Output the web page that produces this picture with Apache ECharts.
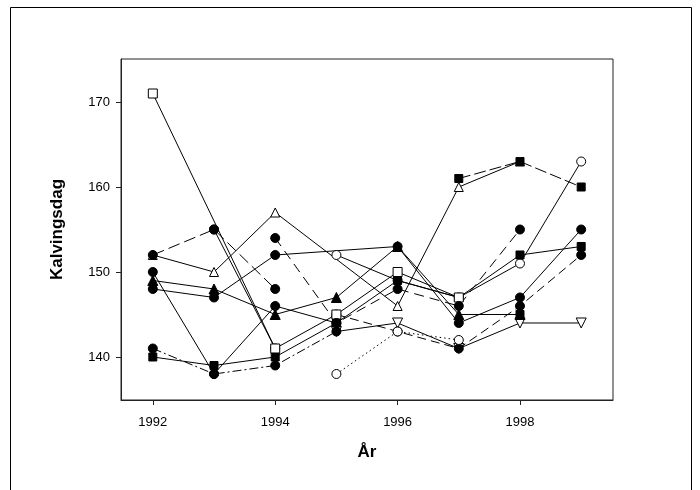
<!DOCTYPE html>
<html>
<head>
<meta charset="utf-8">
<script src="https://cdn.jsdelivr.net/npm/echarts@6/dist/echarts.min.js"></script>
<style>
  html, body { margin: 0; padding: 0; background: #fff; }
  #chart { width: 700px; height: 490px; }
</style>
</head>
<body>
<div id="chart"></div>
<script>
// Years on the x axis and the tick labels shown on each axis
const years = [1992, 1993, 1994, 1995, 1996, 1997, 1998, 1999];
const xTickValues = [1992, 1994, 1996, 1998];
const yTickValues = [140, 150, 160, 170];

// Mean calving day per herd and year (null = no observation that year)
const herdOpenCircleSolid = [null, null, null, 152, 149, 147, 151, 163];
const herdCircleLate93    = [null, 155, 141, null, null, null, null, null];
const herdOpenTriDown     = [null, null, null, 143, 144, 141, 144, 144];
const herdCircleDashedB   = [null, null, null, 145, 143, 141, 146, 152];
const herdFilledSquare    = [140, 139, 140, 144, 149, 147, 152, 153];
const herdCircleSteep     = [150, 138, 146, 144, null, null, null, null];
const herdOpenSquare      = [171, null, 141, 145, 150, 147, null, null];
const herdOpenTriUp       = [152, 150, 157, null, 146, 160, 163, null];
const herdCircleDashedA   = [152, 155, 148, null, null, null, null, null];
const herdFilledTriUp     = [149, 148, 145, 147, 153, 145, 145, null];
const herdCircleSolid     = [148, 147, 152, null, 153, 144, 147, 155];
const herdCircleDashedC   = [null, null, 154, 144, 148, 146, 155, null];
const herdCircleDashDot   = [141, 138, 139, 143, null, null, null, null];
const herdOpenCircleDot   = [null, null, null, 138, 143, 142, null, null];
const herdSquareDashed    = [null, null, null, null, null, 161, 163, 160];
const herdSquareLate      = [null, null, null, null, null, null, 145, null];

// Drawing order: earlier entries sit underneath later ones.
// Open markers are drawn as white-filled shapes with a thin black outline.
const herds = [
  { values: herdOpenCircleSolid, symbol: 'circle',   open: true,  size: 9,  dash: 'solid' },
  { values: herdCircleLate93,    symbol: 'circle',   open: false, size: 9,  dash: 'solid' },
  { values: herdOpenTriDown,     symbol: 'triangle', open: true,  size: 10, dash: 'solid', rotate: 180 },
  { values: herdCircleDashedB,   symbol: 'circle',   open: false, size: 9,  dash: [9, 5] },
  { values: herdFilledSquare,    symbol: 'rect',     open: false, size: 8,  dash: 'solid' },
  { values: herdCircleSteep,     symbol: 'circle',   open: false, size: 9,  dash: 'solid' },
  { values: herdOpenSquare,      symbol: 'rect',     open: true,  size: 9,  dash: 'solid' },
  { values: herdOpenTriUp,       symbol: 'triangle', open: true,  size: 9,  dash: 'solid' },
  { values: herdCircleDashedA,   symbol: 'circle',   open: false, size: 9,  dash: [12, 5] },
  { values: herdFilledTriUp,     symbol: 'triangle', open: false, size: 10, dash: 'solid' },
  { values: herdCircleSolid,     symbol: 'circle',   open: false, size: 9,  dash: 'solid' },
  { values: herdCircleDashedC,   symbol: 'circle',   open: false, size: 9,  dash: [10, 6] },
  { values: herdCircleDashDot,   symbol: 'circle',   open: false, size: 9,  dash: [9, 3, 2, 3] },
  { values: herdOpenCircleDot,   symbol: 'circle',   open: true,  size: 9,  dash: [1.5, 3] },
  { values: herdSquareDashed,    symbol: 'rect',     open: false, size: 8,  dash: [12, 4] },
  { values: herdSquareLate,      symbol: 'rect',     open: false, size: 8,  dash: 'solid' }
];

const series = herds.map(function (h) {
  const points = [];
  h.values.forEach(function (v, i) {
    if (v !== null) points.push([years[i], v]);
  });
  return {
    type: 'line',
    data: points,
    symbol: h.symbol,
    symbolSize: h.size,
    symbolRotate: h.rotate || 0,
    showAllSymbol: true,
    animation: false,
    itemStyle: { color: h.open ? '#fff' : '#000', borderColor: '#000', borderWidth: 1 },
    lineStyle: { color: '#000', width: 1, type: h.dash },
    emphasis: { disabled: true }
  };
});

const font = 'Liberation Sans, Arial, sans-serif';
const chart = echarts.init(document.getElementById('chart'), null, { renderer: 'canvas' });
chart.setOption({
  backgroundColor: '#fff',
  animation: false,
  grid: {
    left: 121, right: 87, top: 59, bottom: 90,
    show: true, borderColor: '#222', borderWidth: 1, backgroundColor: 'transparent'
  },
  xAxis: {
    type: 'value',
    min: 1991.48, max: 1999.52,
    name: 'År',
    nameLocation: 'middle',
    nameGap: 44,
    nameTextStyle: { fontFamily: font, fontSize: 17, fontWeight: 'bold', color: '#000' },
    axisLine: { show: true, onZero: false, lineStyle: { color: '#222', width: 1 } },
    axisTick: { show: true, inside: false, length: 5, customValues: xTickValues, lineStyle: { color: '#222' } },
    axisLabel: { show: true, margin: 16, customValues: xTickValues, fontFamily: font, fontSize: 13, color: '#000',
                 formatter: function (v) { return String(v); } },
    splitLine: { show: false }
  },
  yAxis: {
    type: 'value',
    min: 134.94, max: 175.06,
    name: 'Kalvingsdag',
    nameLocation: 'middle',
    nameGap: 55,
    nameRotate: 90,
    nameTextStyle: { fontFamily: font, fontSize: 17, fontWeight: 'bold', color: '#000' },
    axisLine: { show: true, onZero: false, lineStyle: { color: '#222', width: 1 } },
    axisTick: { show: true, inside: false, length: 5, customValues: yTickValues, lineStyle: { color: '#222' } },
    axisLabel: { show: true, margin: 11, customValues: yTickValues, fontFamily: font, fontSize: 13, color: '#000' },
    splitLine: { show: false }
  },
  graphic: [{
    type: 'rect',
    silent: true,
    shape: { x: 10.5, y: 7.5, width: 681, height: 500 },
    style: { fill: 'none', stroke: '#000', lineWidth: 1 }
  }],
  series: series
});
</script>
</body>
</html>
